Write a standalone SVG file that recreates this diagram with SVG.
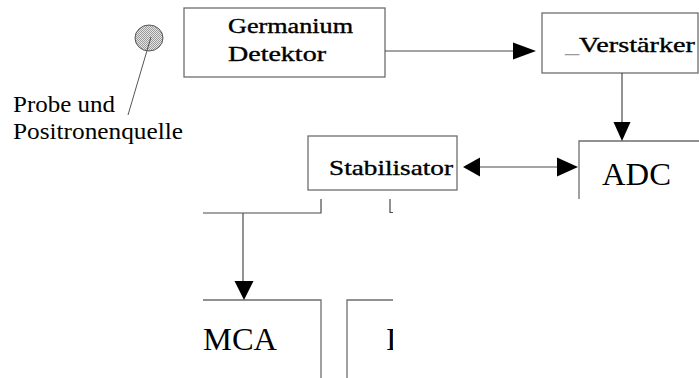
<svg xmlns="http://www.w3.org/2000/svg" width="699" height="378" viewBox="0 0 699 378" font-family="'Liberation Serif', 'DejaVu Serif', serif">
  <style>
    .box { fill: none; stroke: #6e6e6e; stroke-width: 1.3; }
    .wire { fill: none; stroke: #4a4a4a; stroke-width: 1.2; }
    .head { fill: #000; stroke: none; }
    text { font-family: "Liberation Serif", "DejaVu Serif", serif; fill: #000; }
    .heavy { stroke: #000; stroke-width: 0.35; }
  </style>
  <defs>
    <!-- stippled grey fill for the sample disc -->
    <pattern id="stipple" width="2" height="2" patternUnits="userSpaceOnUse">
      <rect width="2" height="2" fill="#e4e4e4"/>
      <rect width="1" height="1" fill="#9a9a9a"/>
      <rect x="1" y="1" width="1" height="1" fill="#9a9a9a"/>
    </pattern>
    <clipPath id="cut">
      <rect x="340" y="290" width="53" height="88"/>
    </clipPath>
  </defs>

  <rect width="699" height="378" fill="#fff"/>

  <!-- sample with positron source -->
  <g id="probe">
    <ellipse cx="149" cy="38" rx="14" ry="13" fill="url(#stipple)" stroke="#555" stroke-width="1"/>
    <line x1="151" y1="37" x2="128" y2="115" stroke="#555" stroke-width="1"/>
    <text x="13" y="112" font-size="23" textLength="102" lengthAdjust="spacingAndGlyphs">Probe und</text>
    <text x="13" y="139" font-size="23" textLength="170" lengthAdjust="spacingAndGlyphs">Positronenquelle</text>
  </g>

  <g id="detektor">
    <rect class="box" x="184" y="8" width="201" height="69"/>
    <text class="heavy" x="228" y="33" font-size="20" textLength="125" lengthAdjust="spacingAndGlyphs">Germanium</text>
    <text class="heavy" x="228" y="61" font-size="20" textLength="98" lengthAdjust="spacingAndGlyphs">Detektor</text>
  </g>

  <g id="verstaerker">
    <rect class="box" x="542" y="13" width="156" height="60"/>
    <text class="heavy" x="565" y="52" font-size="21" textLength="130" lengthAdjust="spacingAndGlyphs"><tspan fill="#9a9a9a" stroke="none">_</tspan>Verstärker</text>
  </g>

  <g id="adc">
    <path class="box" d="M579,199 V141 H699"/>
    <text x="602" y="185" font-size="31" textLength="69" lengthAdjust="spacingAndGlyphs">ADC</text>
  </g>

  <g id="stabilisator">
    <rect class="box" x="308" y="136" width="149" height="54"/>
    <text class="heavy" x="329" y="175" font-size="21" textLength="124" lengthAdjust="spacingAndGlyphs">Stabilisator</text>
  </g>

  <g id="mca">
    <path class="box" d="M203,300 H321 V378"/>
    <text x="203" y="350" font-size="32" textLength="74" lengthAdjust="spacingAndGlyphs">MCA</text>
  </g>

  <g id="next-unit">
    <path class="box" d="M347,378 V300 H393"/>
    <text x="386" y="350" font-size="32" clip-path="url(#cut)">I</text>
  </g>

  <g id="connectors">
    <!-- Detektor to Verstärker -->
    <line class="wire" x1="385" y1="51" x2="515" y2="51"/>
    <polygon class="head" points="536,51 513,42.5 513,59.5"/>
    <!-- Verstärker to ADC -->
    <line class="wire" x1="622" y1="73" x2="622" y2="124"/>
    <polygon class="head" points="622,141 613.5,122 630.5,122"/>
    <!-- Stabilisator and ADC, both ways -->
    <line class="wire" x1="478" y1="167" x2="559" y2="167"/>
    <polygon class="head" points="463,167 480,157.5 480,176.5"/>
    <polygon class="head" points="578,167 557,157.5 557,176.5"/>
    <!-- Stabilisator down to MCA -->
    <path class="wire" d="M321,199 V213 H203"/>
    <line class="wire" x1="243" y1="213" x2="243" y2="283"/>
    <polygon class="head" points="244,300 234.5,281 253.5,281"/>
    <!-- branch to the right-hand unit -->
    <path class="wire" d="M390,199 V212.5 H393"/>
  </g>
</svg>
